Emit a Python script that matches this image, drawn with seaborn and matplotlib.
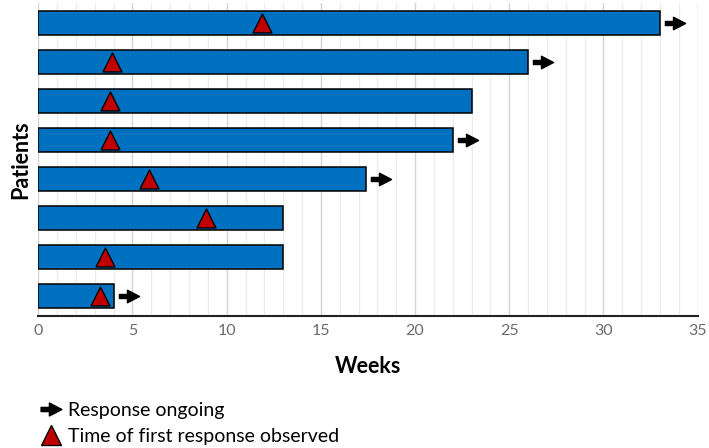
import numpy as np
import pandas as pd
import matplotlib.pyplot as plt
import seaborn as sns
from matplotlib.path import Path
from matplotlib.lines import Line2D

# data (top bar first)
patients = ['P1', 'P2', 'P3', 'P4', 'P5', 'P6', 'P7', 'P8']
weeks = [33.0, 26.0, 23.0, 22.0, 17.4, 13.0, 13.0, 4.0]
first_response = [11.9, 3.9, 3.8, 3.8, 5.9, 8.9, 3.55, 3.3]
ongoing = [True, True, False, True, True, False, False, True]

df = pd.DataFrame({'patient': patients, 'weeks': weeks,
                   'first': first_response, 'ongoing': ongoing})

sns.set_style('white')
plt.rcParams['font.family'] = ['Lato', 'DejaVu Sans']
plt.rcParams['text.color'] = 'black'
plt.rcParams['axes.labelcolor'] = 'black'

bar_color = '#0070C0'
tri_color = '#C00000'

# arrow marker shape (thin shaft, long head)
arrow = Path([(-1, 0.2), (-0.2, 0.2), (-0.2, 0.62), (1, 0), (-0.2, -0.62),
              (-0.2, -0.2), (-1, -0.2), (-1, 0.2)],
             [Path.MOVETO] + [Path.LINETO] * 6 + [Path.CLOSEPOLY])

fig, ax = plt.subplots(figsize=(7.09, 4.48), dpi=100)
fig.subplots_adjust(left=0.054, right=0.984, bottom=0.295, top=0.993)

# grid
for x in np.arange(0, 36, 1):
    col = '#d4d4d4' if x % 5 == 0 else '#ececec'
    ax.axvline(x, color=col, lw=1, zorder=0)

sns.barplot(data=df, x='weeks', y='patient', orient='h', color=bar_color,
            edgecolor='black', linewidth=1.1, width=0.61, saturation=1,
            ax=ax, zorder=2)

sns.scatterplot(data=df, x='first', y='patient', marker='^', s=185,
                color=tri_color, edgecolor='black', linewidth=1,
                ax=ax, zorder=3, legend=False)

ong = df[df['ongoing']]
ax.plot(ong['weeks'] + 0.8, ong['patient'], linestyle='none', marker=arrow,
        markersize=14.5, color='black', zorder=3)

ax.set_xlim(0, 35)
ax.set_ylim(7.5, -0.5)
ax.set_xticks(range(0, 36, 5))
ax.set_yticks([])
ax.tick_params(axis='x', colors='#6b6b6b', labelsize=11.5, length=0, pad=6)
for s in ['top', 'right', 'left']:
    ax.spines[s].set_visible(False)
ax.spines['bottom'].set_color('#222222')
ax.spines['bottom'].set_linewidth(1.5)
ax.spines['bottom'].set_zorder(4)

ax.set_xlabel('Weeks', fontsize=15.5, fontweight='bold', labelpad=13)
ax.set_ylabel('Patients', fontsize=15.5, fontweight='bold', labelpad=5)

handles = [
    Line2D([], [], linestyle='none', marker=arrow, markersize=15, color='black'),
    Line2D([], [], linestyle='none', marker='^', markersize=15,
           markerfacecolor=tri_color, markeredgecolor='black', markeredgewidth=1),
]
fig.legend(handles, ['Response ongoing', 'Time of first response observed'],
           loc='lower left', bbox_to_anchor=(0.045, -0.01), frameon=False,
           fontsize=14, handlelength=1.2, handletextpad=0.25,
           labelspacing=0.45, borderaxespad=0.0)

fig.savefig('out.png', dpi=100)
